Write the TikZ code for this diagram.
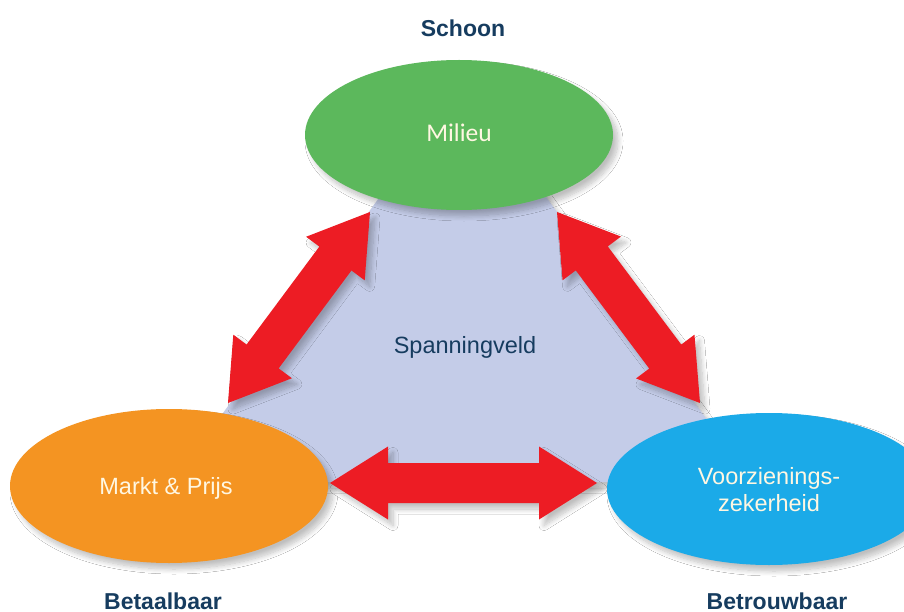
\documentclass[tikz,border=0pt]{standalone}
\usepackage{fontspec}
\setmainfont{Liberation Sans}
\newfontfamily\calibri{Carlito}
\usetikzlibrary{calc}
\usetikzlibrary{shapes.geometric}
\usetikzlibrary{shadows.blur}

\definecolor{milieugreen}{RGB}{92,184,92}
\definecolor{marktorange}{RGB}{244,148,34}
\definecolor{zekerblue}{RGB}{27,170,232}
\definecolor{arrowred}{RGB}{237,28,36}
\definecolor{veldblue}{RGB}{196,204,232}
\definecolor{labelblue}{RGB}{22,60,95}
\definecolor{cream}{RGB}{255,247,226}

\tikzset{
  softshadow/.style={blur shadow={shadow xshift=5pt, shadow yshift=-6pt,
      shadow blur radius=5pt, shadow blur steps=10, shadow opacity=25}},
  bubble/.style={ellipse, inner sep=0pt, text=cream, align=center,
      font=\fontsize{23.5}{27}\selectfont, softshadow},
  corner/.style={text=labelblue, inner sep=0pt, anchor=base,
      font=\bfseries\fontsize{23}{26}\selectfont},
  blockarrow/.style={fill=arrowred, softshadow}
}

% block double arrow from #1 to #2
\newcommand{\dblarrow}[2]{%
  \coordinate (h1) at ($(#1)!58pt!(#2)$);
  \coordinate (h2) at ($(#2)!58pt!(#1)$);
  \path[blockarrow] (#1) -- ($(h1)!36.5pt!90:(#2)$) -- ($(h1)!20pt!90:(#2)$)
    -- ($(h2)!20pt!-90:(#1)$) -- ($(h2)!36.5pt!-90:(#1)$) -- (#2)
    -- ($(h2)!36.5pt!90:(#1)$) -- ($(h2)!20pt!90:(#1)$)
    -- ($(h1)!20pt!-90:(#2)$) -- ($(h1)!36.5pt!-90:(#2)$) -- cycle;}

\begin{document}
\begin{tikzpicture}[x=1pt, y=-1pt]
    \useasboundingbox (0,0) rectangle (904,612);
    \fill[white] (0,0) rectangle (904,612);

    % spanningveld
    \path[fill=veldblue, softshadow] (463,82) -- (752,482) -- (173,482) -- cycle;
    \node[text=labelblue, font=\fontsize{23.5}{27}\selectfont, anchor=base] (veld) at (465,353) {Spanningveld};

    % de drie hoeken
    \node[bubble, fill=milieugreen, minimum width=308pt, minimum height=150pt] (milieu) at (459,135) {};
    \node[text=cream, font=\calibri\fontsize{25.5}{28}\selectfont, anchor=base] at (459,142) {Milieu};
    \node[bubble, fill=marktorange, minimum width=318pt, minimum height=154pt] (markt) at (169,486) {};
    \node[text=cream, font=\fontsize{23.5}{27}\selectfont, anchor=base] at (166,494) {Markt \& Prijs};
    \node[bubble, fill=zekerblue, minimum width=324pt, minimum height=152pt] (zeker) at (769,489) {};
    \node[text=cream, font=\fontsize{23.5}{27}\selectfont, align=center] at (769,490) {Voorzienings-\\zekerheid};

    \node[corner] (schoon) at (463,37) {Schoon};
    \node[corner] (betaalbaar) at (163,609) {Betaalbaar};
    \node[corner] (betrouwbaar) at (777,609) {Betrouwbaar};

    % pijlen
    \coordinate (ml1) at (228,403);
    \coordinate (ml2) at (370,212);
    \coordinate (mz1) at (557,212);
    \coordinate (mz2) at (700,403);
    \coordinate (pz1) at (330,483);
    \coordinate (pz2) at (597,483);
    \dblarrow{ml1}{ml2}
    \dblarrow{mz1}{mz2}
    \dblarrow{pz1}{pz2}
\end{tikzpicture}
\end{document}
